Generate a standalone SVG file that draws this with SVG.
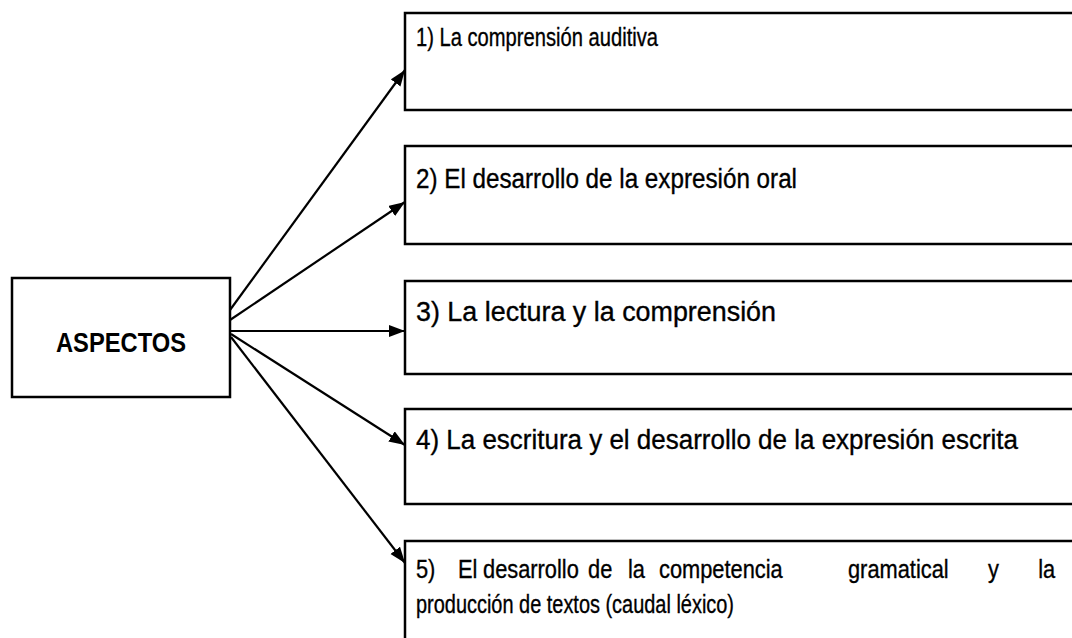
<svg xmlns="http://www.w3.org/2000/svg" width="1072" height="638" viewBox="0 0 1072 638">
<style>
.box{fill:#fff;stroke:#000;stroke-width:2.5}
.lbl{font-family:"Liberation Sans",Arial,sans-serif;font-size:27px;fill:#000;stroke:#000;stroke-width:0.35}
.sm{font-family:"Liberation Sans",Arial,sans-serif;font-size:26px;fill:#000;stroke:#000;stroke-width:0.35}
.title{font-family:"Liberation Sans",Arial,sans-serif;font-size:27px;font-weight:bold;fill:#000}
.con{stroke:#000;stroke-width:2.2;fill:none;marker-end:url(#ah)}
</style>
<defs>
<marker id="ah" markerUnits="userSpaceOnUse" markerWidth="18" markerHeight="14" refX="16" refY="6" orient="auto">
<path d="M0,0 L16,6 L0,12 z" fill="#000"/>
</marker>
</defs>
<rect width="1072" height="638" fill="#fff"/>
<g id="aspectos">
<rect class="box" x="12" y="278" width="218" height="119"/>
<text class="title" x="121" y="352" text-anchor="middle" textLength="130" lengthAdjust="spacingAndGlyphs">ASPECTOS</text>
</g>
<g id="n1">
<rect class="box" x="405" y="13" width="680" height="97"/>
<text class="sm" x="416" y="46" textLength="242" lengthAdjust="spacingAndGlyphs">1) La comprensión  auditiva</text>
</g>
<g id="n2">
<rect class="box" x="405" y="146" width="680" height="98"/>
<text class="lbl" x="416" y="188" textLength="381" lengthAdjust="spacingAndGlyphs">2) El desarrollo de la expresión oral</text>
</g>
<g id="n3">
<rect class="box" x="405" y="281" width="680" height="93"/>
<text class="lbl" x="416" y="321" textLength="360" lengthAdjust="spacingAndGlyphs">3) La lectura  y la comprensión</text>
</g>
<g id="n4">
<rect class="box" x="405" y="409" width="680" height="95"/>
<text class="lbl" x="416" y="449" textLength="602" lengthAdjust="spacingAndGlyphs">4) La escritura  y el  desarrollo de la expresión escrita</text>
</g>
<g id="n5">
<rect class="box" x="405" y="541" width="680" height="110"/>
<text class="sm" y="578" transform="scale(0.84 1)"><tspan x="495.2">5)</tspan><tspan x="545.2">El</tspan><tspan x="575">desarrollo</tspan><tspan x="700">de</tspan><tspan x="747.6">la</tspan><tspan x="784.5">competencia</tspan><tspan x="1009.5">gramatical</tspan><tspan x="1176.2">y</tspan><tspan x="1236">la</tspan></text>
<text class="sm" x="416" y="613" textLength="318" lengthAdjust="spacingAndGlyphs">producción  de textos (caudal léxico)</text>
</g>
<g id="connectors">
<line class="con" x1="230" y1="310" x2="405" y2="70"/>
<line class="con" x1="230" y1="320" x2="405" y2="202"/>
<line class="con" x1="231" y1="331" x2="405" y2="331"/>
<line class="con" x1="231" y1="334" x2="405" y2="445"/>
<line class="con" x1="231" y1="337" x2="405" y2="563"/>
</g>
</svg>
